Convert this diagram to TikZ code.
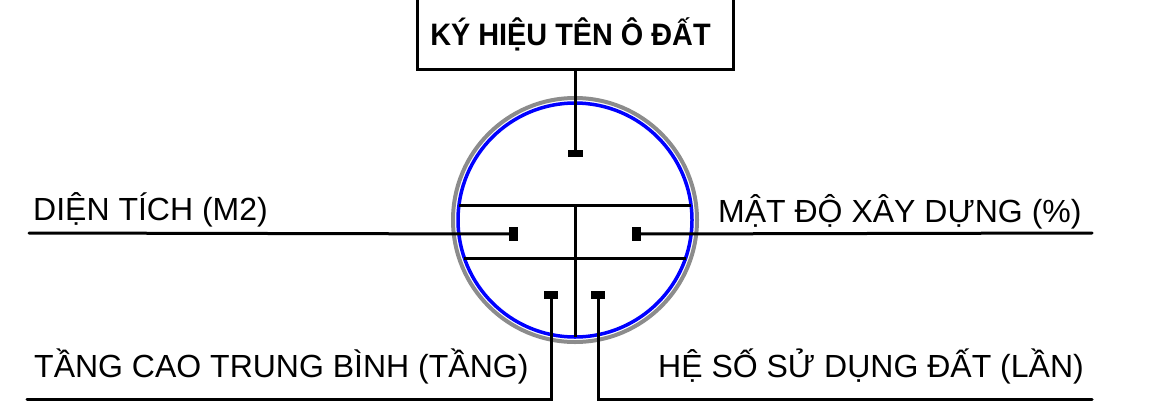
\documentclass[tikz,border=0pt]{standalone}
\usepackage{fontspec}
\setmainfont{Liberation Sans}
\begin{document}
\begin{tikzpicture}[x=1pt,y=-1pt,
  blk/.style={draw=black,line width=3pt},
  lbl/.style={inner sep=0pt,font=\fontsize{32}{38}\selectfont}]
\useasboundingbox (0,0) rectangle (1170,416);
% title box
\node[blk,fill=white,minimum width=316pt,minimum height=90pt,inner sep=0pt,anchor=south] (box) at (575,71) {};
\node[inner sep=0pt,anchor=base,font=\fontsize{31}{36}\selectfont\bfseries] (title) at (570.5,45) {\scalebox{0.93}[1]{KÝ HIỆU TÊN Ô ĐẤT}};
% circles
\coordinate (c) at (575,220);
\draw[draw=gray!90,line width=4pt] (c) circle[radius=122pt];
\draw[draw=blue,line width=3.5pt] (c) circle[radius=117pt];
% inner division lines
\coordinate (u1) at (459,205); \coordinate (u2) at (691,205);
\coordinate (l1) at (464,258); \coordinate (l2) at (686,258);
\coordinate (vt) at (575,205); \coordinate (vb) at (575,337);
\draw[blk] (u1) -- (u2);
\draw[blk] (l1) -- (l2);
\draw[blk] (vt) -- (vb);
% pads
\node[fill=black,inner sep=0pt,minimum width=15pt,minimum height=7pt] (pt) at (575,153) {};
\node[fill=black,inner sep=0pt,minimum width=9pt,minimum height=14pt] (pl) at (513,234) {};
\node[fill=black,inner sep=0pt,minimum width=9pt,minimum height=14pt] (pr) at (636,234) {};
\node[fill=black,inner sep=0pt,minimum width=14pt,minimum height=8pt] (pbl) at (551,295) {};
\node[fill=black,inner sep=0pt,minimum width=14pt,minimum height=8pt] (pbr) at (598,295) {};
% leaders
\coordinate (el) at (29,233);
\coordinate (er) at (1092,233);
\coordinate (kbl) at (551,399);
\coordinate (ebl) at (27,399);
\coordinate (kbr) at (598,399);
\coordinate (ebr) at (1092,399);
\draw[blk] (box.south) -- (pt.center);
\draw[blk,line cap=round] (el) -- (pl.center);
\draw[blk,line cap=round] (pr.center) -- (er);
\draw[blk,line cap=round] (pbl.center) -- (kbl) -- (ebl);
\draw[blk,line cap=round] (pbr.center) -- (kbr) -- (ebr);
% labels
\node[lbl,anchor=base west] (t1) at (33,220) {DIỆN TÍCH (M2)};
\node[lbl,anchor=base west] (t2) at (718,222) {MẬT ĐỘ XÂY DỰNG (\%)};
\node[lbl,anchor=base west] (t3) at (34,377) {TẦNG CAO TRUNG BÌNH (TẦNG)};
\node[lbl,anchor=base west] (t4) at (658,377) {HỆ SỐ SỬ DỤNG ĐẤT (LẦN)};
\end{tikzpicture}
\end{document}
